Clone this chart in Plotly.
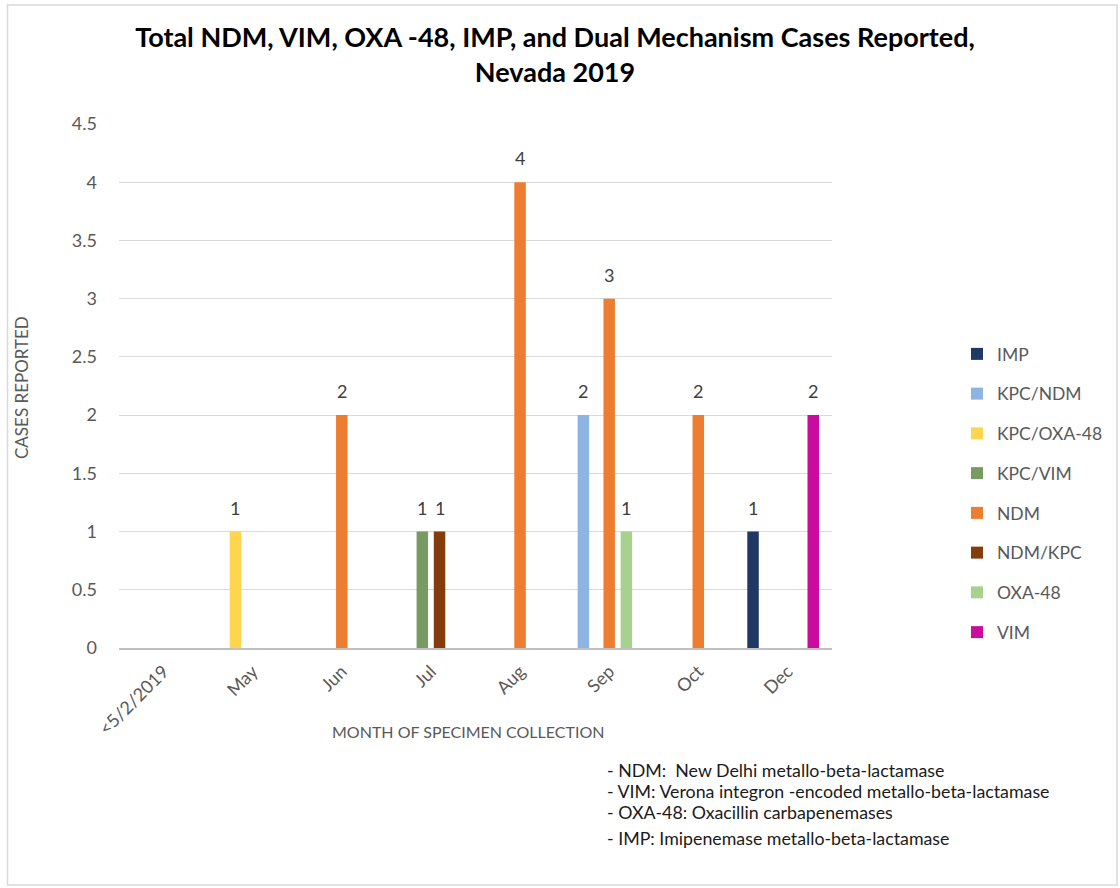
import plotly.graph_objects as go

# Month of specimen collection
categories = ["<5/2/2019", "May", "Jun", "Jul", "Aug", "Sep", "Oct", "Dec"]

# Cases reported per mechanism (None = no case that month)
imp_cases = [None, None, None, None, None, None, None, 1]
kpc_ndm_cases = [None, None, None, None, None, 2, None, None]
kpc_oxa48_cases = [None, 1, None, None, None, None, None, None]
kpc_vim_cases = [None, None, None, 1, None, None, None, None]
ndm_cases = [None, None, 2, None, 4, 3, 2, None]
ndm_kpc_cases = [None, None, None, 1, None, None, None, None]
oxa48_cases = [None, None, None, None, None, 1, None, None]
vim_cases = [None, None, None, None, None, None, None, 2]

series_names = ["IMP", "KPC/NDM", "KPC/OXA-48", "KPC/VIM", "NDM", "NDM/KPC", "OXA-48", "VIM"]
series_values = [imp_cases, kpc_ndm_cases, kpc_oxa48_cases, kpc_vim_cases,
                 ndm_cases, ndm_kpc_cases, oxa48_cases, vim_cases]
series_colors = ["#203864", "#8DB4E2", "#FFD44F", "#789A63",
                 "#ED7D31", "#843C0C", "#A9D18E", "#C90C9E"]

notes = [
    "- NDM:  New Delhi metallo-beta-lactamase",
    "- VIM: Verona integron -encoded metallo-beta-lactamase",
    "- OXA-48: Oxacillin carbapenemases",
    "- IMP: Imipenemase metallo-beta-lactamase",
]

FONT = "Lato, 'Open Sans', sans-serif"
GREY = "#595959"

# plot area in pixels
L, R, T, B = 119, 832, 124, 648
W, H = 1120, 888
PW, PH = R - L, B - T

def px_to_paper_x(px):
    return (px - L) / PW

def px_to_paper_y(py):
    return (B - py) / PH

slot = 0.0965      # spacing between series slots, in category units
bar_w = 0.129      # bar width, in category units
center_slot = 4    # nine slots per category; slot 4 is the middle one

fig = go.Figure()
annotations = []
for k, (name, vals, col) in enumerate(zip(series_names, series_values, series_colors)):
    shift = (k - center_slot) * slot
    fig.add_trace(go.Bar(
        x=categories, y=vals, name=name,
        marker=dict(color=col, line=dict(width=0)),
        width=bar_w, offset=shift - bar_w / 2,
        legendgroup=name,
    ))
    for i, v in enumerate(vals):
        if v is not None:
            annotations.append(dict(
                x=i + shift, y=v, xref="x", yref="y",
                text=str(v), showarrow=False, yanchor="bottom", yshift=11,
                font=dict(family=FONT, size=18, color="#404040"),
            ))

note_rows = [770, 791, 812, 838]
for txt, py in zip(notes, note_rows):
    annotations.append(dict(
        x=px_to_paper_x(605), y=px_to_paper_y(py), xref="paper", yref="paper",
        text=txt, showarrow=False, xanchor="left", yanchor="middle",
        font=dict(family=FONT, size=17.8, color="#1a1a1a"),
    ))

# axis titles
annotations.append(dict(
    x=px_to_paper_x(468), y=px_to_paper_y(731), xref="paper", yref="paper",
    text="MONTH OF SPECIMEN COLLECTION", showarrow=False,
    xanchor="center", yanchor="middle",
    font=dict(family=FONT, size=16, color=GREY),
))
annotations.append(dict(
    x=px_to_paper_x(21), y=px_to_paper_y(388), xref="paper", yref="paper",
    text="CASES REPORTED", showarrow=False, textangle=-90,
    xanchor="center", yanchor="middle",
    font=dict(family=FONT, size=17, color=GREY),
))

fig.update_layout(
    width=W, height=H,
    margin=dict(l=L, r=W - R, t=T, b=H - B, pad=0),
    paper_bgcolor="white", plot_bgcolor="white",
    barmode="overlay",
    title=dict(
        text="Total NDM, VIM, OXA -48, IMP, and Dual Mechanism Cases Reported,<br>Nevada 2019",
        x=px_to_paper_x(555), xref="paper", xanchor="center",
        y=1 - 47 / H, yanchor="middle",
        font=dict(family=FONT, size=27, color="#000000", weight="bold"),
    ),
    font=dict(family=FONT, color=GREY),
    xaxis=dict(
        type="category", categoryorder="array", categoryarray=categories,
        tickangle=-45, tickfont=dict(size=18, color=GREY),
        showgrid=False, showline=True, linecolor="#BFBFBF", linewidth=2,
        ticks="", zeroline=False, ticklabelstandoff=4,
    ),
    yaxis=dict(
        range=[0, 4.5], dtick=0.5,
        tickfont=dict(size=18, color=GREY),
        showgrid=True, gridcolor="#D9D9D9", gridwidth=1,
        zeroline=False, showline=False, ticks="", ticklabelstandoff=21,
    ),
    legend=dict(
        x=px_to_paper_x(957), xanchor="left",
        y=px_to_paper_y(493), yanchor="middle",
        font=dict(size=17.5, color=GREY),
        tracegroupgap=14, bgcolor="rgba(0,0,0,0)",
    ),
    annotations=annotations,
    shapes=[dict(
        type="rect", xref="paper", yref="paper",
        x0=px_to_paper_x(7.5), x1=px_to_paper_x(1117), y0=px_to_paper_y(885), y1=px_to_paper_y(5),
        line=dict(color="#D9D9D9", width=1.5), fillcolor="rgba(0,0,0,0)", layer="below",
    )],
    showlegend=True,
)

fig.write_html("out.html")
